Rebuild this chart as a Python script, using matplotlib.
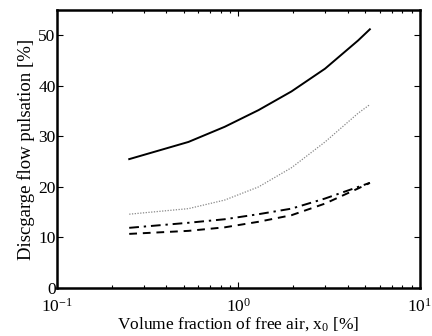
import matplotlib
matplotlib.use("Agg")
import matplotlib.pyplot as plt
from matplotlib.ticker import LogLocator, FixedLocator

x = [0.25, 0.53, 0.84, 1.29, 1.96, 3.0, 4.57, 5.3]
solid = [25.5, 28.9, 31.9, 35.2, 38.9, 43.4, 49.0, 51.2]
dotted = [14.6, 15.7, 17.4, 20.0, 23.8, 28.9, 34.6, 36.3]
dashdot = [11.9, 12.9, 13.6, 14.6, 15.7, 17.7, 20.0, 20.8]
dashed = [10.7, 11.3, 12.0, 13.1, 14.4, 16.7, 19.7, 20.8]

yticks = [0, 10, 20, 30, 40, 50]

plt.rcParams['font.family'] = ['Liberation Serif', 'DejaVu Serif']
plt.rcParams['mathtext.fontset'] = 'custom'
plt.rcParams['mathtext.rm'] = 'Liberation Serif'
plt.rcParams['mathtext.it'] = 'Liberation Serif:italic'

fig = plt.figure(figsize=(4.32, 3.36), dpi=100)
ax = fig.add_axes([0.132, 0.143, 0.840, 0.827])

ax.plot(x, solid, color='black', lw=1.4, ls='-')
ax.plot(x, dotted, color='#888888', lw=0.9, ls=(0, (1, 1.2)))
ax.plot(x, dashdot, color='black', lw=1.4, ls=(0, (5, 2.5, 1.2, 2.5)))
ax.plot(x, dashed, color='black', lw=1.4, ls=(0, (4, 3)))

ax.set_xscale('log')
ax.set_xlim(0.1, 10)
ax.set_ylim(0, 55)
ax.set_yticks(yticks)
ax.xaxis.set_major_locator(FixedLocator([0.1, 1, 10]))
ax.xaxis.set_minor_locator(LogLocator(base=10, subs=range(2, 10)))
ax.set_xticklabels([r'$10^{-1}$', r'$10^{0}$', r'$10^{1}$'])

ax.tick_params(which='both', direction='in', top=True, right=True, labelsize=12.5)
ax.tick_params(which='major', length=4, width=0.8)
ax.tick_params(which='minor', length=2.5, width=0.8)
ax.tick_params(axis='x', pad=7)
ax.tick_params(axis='y', pad=1)
for s in ax.spines.values():
    s.set_linewidth(1.8)

ax.set_xlabel(r'Volume fraction of free air, x$_0$ [%]', fontsize=12.5, labelpad=0)
ax.set_ylabel('Discgarge flow pulsation [%]', fontsize=13.5, labelpad=2)

fig.savefig('out.png', dpi=100)
